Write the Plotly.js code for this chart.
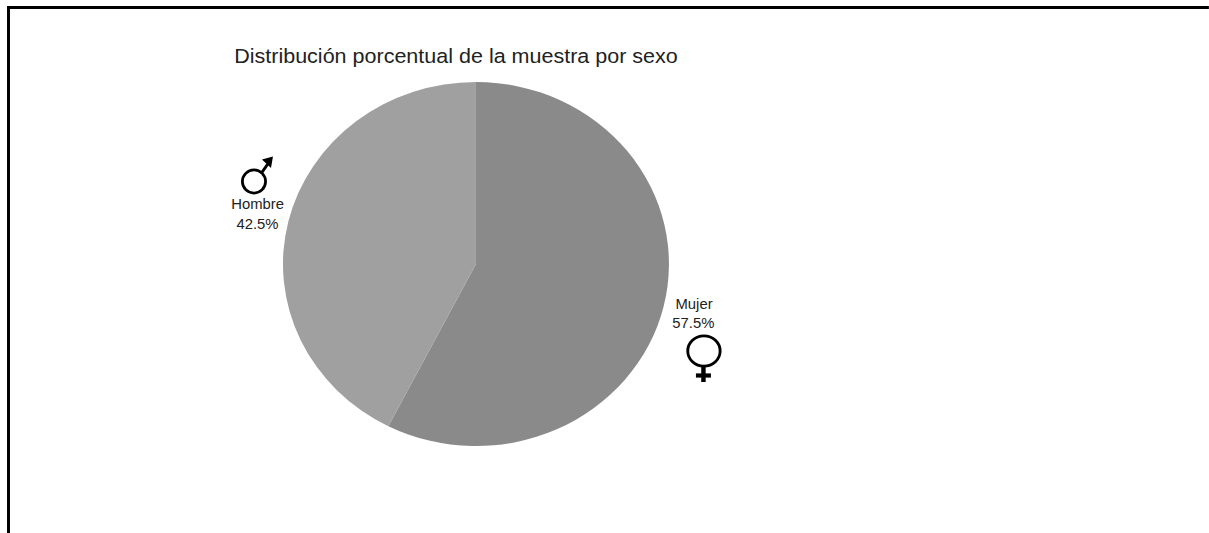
<!DOCTYPE html>
<html lang="es">
<head>
<meta charset="utf-8">
<script src="https://cdn.plot.ly/plotly-3.0.1.min.js"></script>
<style>
html,body{margin:0;padding:0;background:#fff;overflow:hidden;width:1209px;height:533px}
/* The figure is drawn slightly wide: the circle becomes an ellipse of 386 by 364 */
#chart{transform-origin:0 0}
</style>
</head>
<body>
<div id="chart"></div>
<script>
// Distribución de la muestra por sexo
const categories = ['Mujer', 'Hombre'];
const percentages = [57.5, 42.5];
const sliceColors = ['#8a8a8a', '#a0a0a0'];
const chartTitle = 'Distribución porcentual de la muestra por sexo';

const W = 1209, H = 533;
const stretchX = 386 / 364;
const px = x => x / W;
const py = y => 1 - y / H;

// Straight stroke given in page pixels
function stroke(x0, y0, x1, y1, width) {
  return {type: 'line', xref: 'paper', yref: 'paper',
    x0: px(x0), y0: py(y0), x1: px(x1), y1: py(y1),
    line: {color: '#000', width: width}};
}
// Ring given by centre and radii in page pixels
function ring(cx, cy, rx, ry, width) {
  return {type: 'circle', xref: 'paper', yref: 'paper',
    x0: px(cx - rx), y0: py(cy - ry), x1: px(cx + rx), y1: py(cy + ry),
    line: {color: '#000', width: width}, fillcolor: 'rgba(0,0,0,0)'};
}
function filledPath(points) {
  const d = points.map((p, i) => (i ? 'L' : 'M') + px(p[0]) + ',' + py(p[1])).join(' ') + ' Z';
  return {type: 'path', xref: 'paper', yref: 'paper', path: d,
    fillcolor: '#000', line: {color: '#000', width: 0}};
}

const frame = [stroke(7, 7.5, W, 7.5, 3), stroke(8.5, 6, 8.5, H, 2.8)];
const maleSign = [
  ring(254, 181.5, 11.6, 11.6, 2.6),
  stroke(261.5, 173, 268.5, 163, 2.8),
  filledPath([[273, 156.5], [262, 159.5], [271, 168]])
];
const femaleSign = [
  ring(704, 351, 16.2, 15.2, 2.7),
  stroke(703.5, 366.5, 703.5, 382, 4.2),
  stroke(696, 375.5, 711, 375.5, 4.2)
];

const labelFont = {family: 'Liberation Sans, Arial, sans-serif', size: 14, color: '#222'};
const note = (text, x, y) => ({
  text: text, x: px(x), y: py(y), xref: 'paper', yref: 'paper', showarrow: false,
  xanchor: 'center', yanchor: 'middle', font: labelFont
});
const pct = i => percentages[i].toFixed(1) + '%';

Plotly.newPlot('chart', [{
  type: 'pie',
  labels: categories,
  values: percentages,
  sort: false,
  direction: 'clockwise',
  rotation: 0,
  textinfo: 'none',
  hoverinfo: 'label+percent',
  marker: {colors: sliceColors, line: {width: 0}},
  domain: {x: [px(283), px(669)], y: [py(446), py(82)]}
}], {
  width: W / stretchX, height: H,
  margin: {l: 0, r: 0, t: 0, b: 0},
  paper_bgcolor: '#fff',
  showlegend: false,
  title: {
    text: chartTitle,
    font: {family: 'Liberation Sans, Arial, sans-serif', size: 20.3, color: '#222'},
    x: px(456), xanchor: 'center', y: py(56), yanchor: 'middle'
  },
  annotations: [
    note(categories[1], 257.5, 204),
    note(pct(1), 257.5, 224),
    note(categories[0], 694, 303.5),
    note(pct(0), 694, 323)
  ],
  shapes: [...frame, ...maleSign, ...femaleSign]
}, {displayModeBar: false, staticPlot: true}).then(() => {
  document.getElementById('chart').style.transform = 'scale(' + stretchX + ',1)';
});
</script>
</body>
</html>
